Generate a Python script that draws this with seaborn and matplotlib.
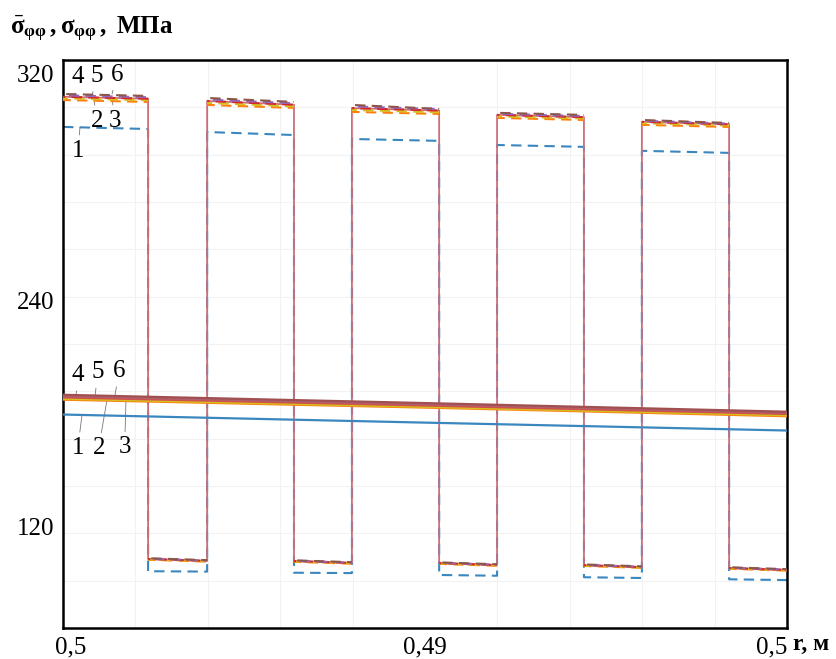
import matplotlib
matplotlib.use("Agg")
import matplotlib.pyplot as plt
import matplotlib.transforms as mtrans
from matplotlib.ticker import LinearLocator
import pandas as pd
import seaborn as sns

sns.set_theme(style="white")
plt.rcParams['font.family'] = ['Liberation Serif', 'DejaVu Serif']
plt.rcParams['mathtext.fontset'] = 'custom'
plt.rcParams['mathtext.rm'] = 'Liberation Serif:bold'
plt.rcParams['mathtext.it'] = 'Liberation Serif:bold'
plt.rcParams['mathtext.bf'] = 'Liberation Serif:bold'
plt.rcParams['text.color'] = 'black'
plt.rcParams['xtick.color'] = 'black'
plt.rcParams['ytick.color'] = 'black'

# segment edges along r (alternating high / low zones)
edges = [0.48, 0.48235, 0.48398, 0.48638, 0.48798, 0.49039, 0.49199, 0.49439, 0.49599, 0.4984, 0.5]

# dashed curves: value at start / end of each segment
c1_start = [332.4, 96.2, 329.7, 95.4, 326.0, 94.2, 322.8, 93.0, 319.7, 91.9]
c1_end = [331.3, 96.0, 328.1, 95.2, 325.0, 93.8, 321.8, 92.6, 318.6, 91.5]
c2_start = [346.7, 102.3, 344.1, 101.2, 340.4, 100.1, 337.2, 99.0, 333.5, 97.5]
c2_end = [345.7, 101.3, 342.5, 100.2, 339.3, 99.1, 336.1, 98.0, 332.4, 96.5]
c3_start = [347.6, 102.5, 345.2, 101.4, 341.4, 100.3, 338.0, 99.2, 334.4, 97.7]
c3_end = [346.6, 101.5, 343.3, 100.4, 340.2, 99.3, 336.9, 98.2, 333.2, 96.7]
c4_start = [348.4, 102.7, 346.2, 101.6, 342.4, 100.5, 338.8, 99.4, 335.1, 97.9]
c4_end = [347.4, 101.7, 344.2, 100.6, 341.1, 99.5, 337.6, 98.4, 333.8, 96.9]
c5_start = [349.2, 102.9, 347.0, 101.8, 343.3, 100.7, 339.4, 99.6, 335.7, 98.1]
c5_end = [348.2, 101.9, 345.0, 100.8, 341.9, 99.7, 338.2, 98.6, 334.2, 97.1]
c6_start = [349.9, 103.1, 347.8, 102.0, 344.1, 100.9, 339.9, 99.8, 336.1, 98.3]
c6_end = [348.9, 102.1, 345.7, 101.0, 342.0, 99.9, 338.8, 98.8, 334.5, 97.3]

# solid (averaged) curves
r_solid = [0.48, 0.49, 0.50]
s1 = [179.5, 175.2, 171.0]
s2 = [187.4, 183.2, 178.6]
s3 = [187.9, 183.6, 179.1]
s4 = [188.6, 184.3, 179.8]
s5 = [189.3, 185.0, 180.5]
s6 = [190.0, 185.6, 181.0]

colors = ['#3a87c0', '#ff7f0e', '#d4c020', '#d62728', '#9467bd', '#8c564b']
solid_colors = ['#3a87c0', '#ff7f0e', '#d4c020', '#d0504a', '#b06070', '#a05050']

y_ticks = [120, 240, 361]
y_ticklabels = ['120', '240', '320']
x_ticks = [0.48, 0.49, 0.50]
x_ticklabels = ['0,5', '0,49', '0,5']


def step_frame(starts, ends):
    xs, ys, seg = [], [], []
    for i in range(len(starts)):
        xs += [edges[i], edges[i + 1]]
        ys += [starts[i], ends[i]]
        seg += [i, i]
    return pd.DataFrame({'r': xs, 'sigma': ys, 'seg': seg})


dashed = [(c1_start, c1_end), (c2_start, c2_end), (c3_start, c3_end),
          (c4_start, c4_end), (c5_start, c5_end), (c6_start, c6_end)]
solid = [s1, s2, s3, s4, s5, s6]

fig = plt.figure(figsize=(8.37, 6.59), dpi=100)
ax = fig.add_axes([0.0753, 0.047, 0.865, 0.862])

# curve 1 drawn as a full stepped dashed line (with verticals)
sns.lineplot(data=step_frame(c1_start, c1_end), x='r', y='sigma', sort=False,
             estimator=None, color=colors[0], lw=1.5, ax=ax, zorder=2,
             linestyle=(0, (5, 3)))

# solid outline of the stepped profile (pinkish verticals)
sns.lineplot(data=step_frame(c4_start, c4_end), x='r', y='sigma', sort=False,
             estimator=None, color='#cc6e78', lw=1.3, ax=ax, zorder=3)

# curves 2..6: dashed horizontal pieces only
for k in range(1, 6):
    st, en = dashed[k]
    sns.lineplot(data=step_frame(st, en), x='r', y='sigma', units='seg', sort=False,
                 estimator=None, color=colors[k], lw=1.5, ax=ax, zorder=4,
                 linestyle=(k * 1.3, (5, 3)))

for k, vals in enumerate(solid):
    sns.lineplot(x=r_solid, y=vals, color=solid_colors[k], lw=1.6, ax=ax, zorder=4)

ax.set_xlim(0.48, 0.50)
ax.set_ylim(66, 368)
ax.set_xticks(x_ticks)
ax.set_xticklabels(x_ticklabels, fontsize=18)
ax.set_yticks(y_ticks)
ax.set_yticklabels(y_ticklabels, fontsize=18)
ax.tick_params(length=0, pad=6)
ax.set_xlabel('')
ax.set_ylabel('')

xl = ax.get_xticklabels()
xl[0].set_horizontalalignment('left')
xl[0].set_transform(xl[0].get_transform() + mtrans.ScaledTranslation(-6 / 72, 0, fig.dpi_scale_trans))
xl[-1].set_horizontalalignment('right')

ax.xaxis.set_minor_locator(LinearLocator(11))
ax.yaxis.set_minor_locator(LinearLocator(13))
ax.grid(which='minor', color='#f2f2f2', lw=0.8)
ax.grid(which='major', visible=False)
ax.tick_params(which='minor', length=0)
for sp in ax.spines.values():
    sp.set_color('black')
    sp.set_linewidth(1.8)


def r_of(px):
    return 0.48 + (px - 63) / 724 * 0.02


def annotate(label, px, yval, dx, dy):
    ax.annotate(label, xy=(r_of(px), yval), xytext=(dx, dy), textcoords='offset points',
                ha='center', va='center', fontsize=18, color='black',
                arrowprops=dict(arrowstyle='-', color='#777777', lw=0.6, shrinkA=1, shrinkB=0))


# labels for dashed curves
annotate('4', 74, c4_start[0], 3, 14)
annotate('5', 92, c5_start[0], 3.5, 14)
annotate('6', 112, c6_start[0], 3.5, 14)
annotate('2', 94, c2_start[0], 2, -15)
annotate('3', 112, c3_start[0], 2, -16)
annotate('1', 80, c1_start[0], -1.5, -17)
# labels for solid curves
annotate('4', 76, s4[0], 1, 16)
annotate('5', 95, s5[0], 2, 17)
annotate('6', 115, s6[0], 3, 17)
annotate('1', 82, s1[0], -3, -24)
annotate('2', 107, s2[0], -6, -35)
annotate('3', 126, s3[0], -1, -35)

fig.text(0.012, 0.957, r'$\bar{\sigma}_{\varphi\varphi}\,,\sigma_{\varphi\varphi}\,,$' + ' МПа',
         fontsize=18, fontweight='bold', ha='left', va='center')
fig.text(0.947, 0.022, 'r, м', fontsize=17, fontweight='bold', ha='left', va='center')

fig.savefig('out.png', dpi=100)
